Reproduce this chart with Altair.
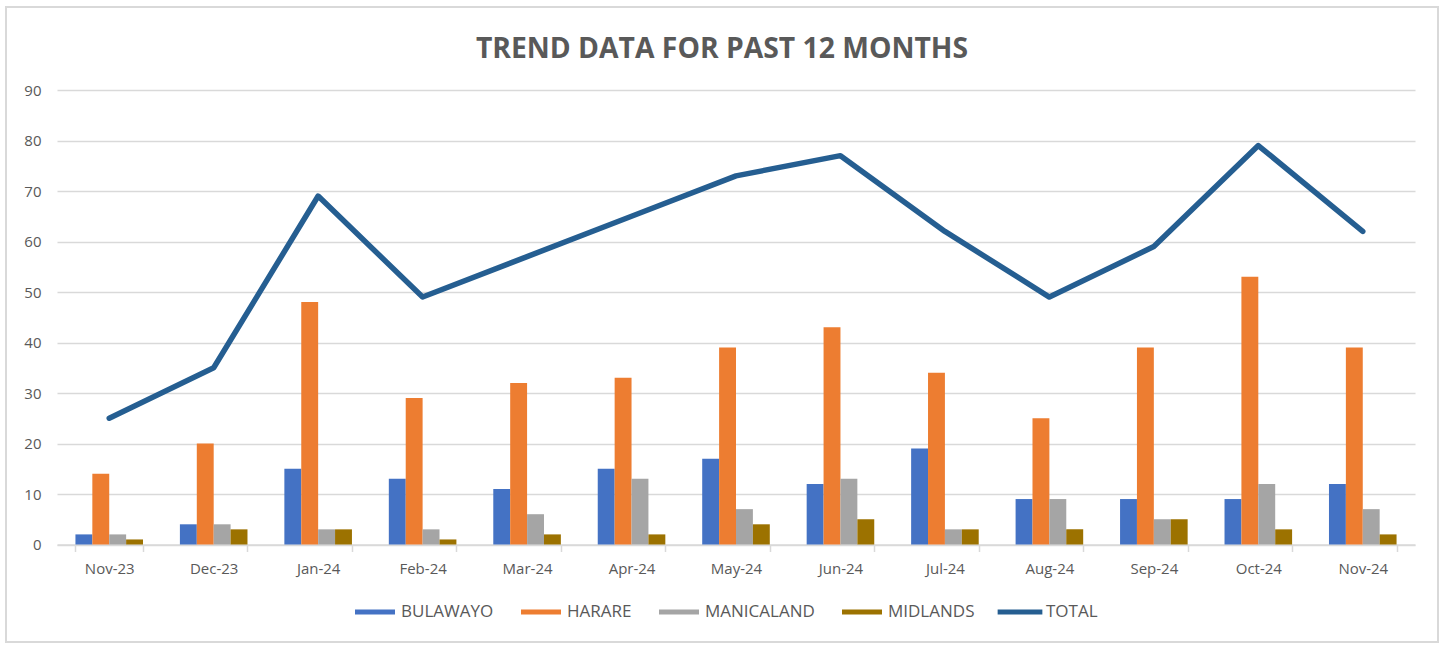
import altair as alt
import pandas as pd

months = ["Nov-23", "Dec-23", "Jan-24", "Feb-24", "Mar-24", "Apr-24", "May-24",
          "Jun-24", "Jul-24", "Aug-24", "Sep-24", "Oct-24", "Nov-24"]
bulawayo = [2, 4, 15, 13, 11, 15, 17, 12, 19, 9, 9, 9, 12]
harare = [14, 20, 48, 29, 32, 33, 39, 43, 34, 25, 39, 53, 39]
manicaland = [2, 4, 3, 3, 6, 13, 7, 13, 3, 9, 5, 12, 7]
midlands = [1, 3, 3, 1, 2, 2, 4, 5, 3, 3, 5, 3, 2]
total = [25, 35, 69, 49, 57, 65, 73, 77, 62, 49, 59, 79, 62]

bar_series = ["BULAWAYO", "HARARE", "MANICALAND", "MIDLANDS"]
bar_colors = ["#4472C4", "#ED7D31", "#A5A5A5", "#9C7200"]
line_series = ["TOTAL"]
line_colors = ["#255E91"]

rows = []
for name, vals in zip(bar_series, [bulawayo, harare, manicaland, midlands]):
    for m, v in zip(months, vals):
        rows.append({"month": m, "series": name, "value": v})
bars_df = pd.DataFrame(rows)
line_df = pd.DataFrame({"month": months, "series": ["TOTAL"] * len(months), "value": total})

FONT = "Open Sans"
GREY = "#595959"

bar_legend = alt.Legend(
    orient="none", legendX=298, legendY=502, direction="horizontal", columns=4,
    title=None, labelFont=FONT, labelFontSize=17, labelColor=GREY,
    symbolType="M-1,-0.125H1V0.125H-1Z", symbolSize=1600, symbolStrokeWidth=0,
    labelOffset=6, columnPadding=27,
)
line_legend = alt.Legend(
    orient="none", legendX=938, legendY=497, direction="horizontal",
    title=None, labelFont=FONT, labelFontSize=17, labelColor=GREY,
    symbolType="stroke", symbolSize=2000, symbolStrokeWidth=5,
    labelOffset=1,
)

x_enc = alt.X("month:N", sort=months, title=None,
              scale=alt.Scale(paddingInner=0.353, paddingOuter=0.1765),
              axis=alt.Axis(labelAngle=0, labelFont=FONT, labelFontSize=15, labelColor=GREY,
                            domainColor="#d9d9d9", domainWidth=1.5, tickColor="#d9d9d9",
                            tickWidth=1.5, tickSize=7, tickBand="extent", labelPadding=10,
                            grid=False))
y_enc = alt.Y("value:Q", title=None,
              scale=alt.Scale(domain=[0, 90], nice=False),
              axis=alt.Axis(values=list(range(0, 100, 10)), labelFont=FONT, labelFontSize=15,
                            labelColor=GREY, domain=False, ticks=False, labelPadding=16,
                            gridColor="#d9d9d9", gridWidth=1.5))

bars = alt.Chart(bars_df).mark_bar().encode(
    x=x_enc,
    y=y_enc,
    xOffset=alt.XOffset("series:N", sort=bar_series, scale=alt.Scale(paddingInner=0, paddingOuter=0)),
    color=alt.Color("series:N", scale=alt.Scale(domain=bar_series, range=bar_colors), legend=bar_legend),
)

line = alt.Chart(line_df).mark_line(strokeWidth=5.5, strokeJoin="round", strokeCap="round").encode(
    x=alt.X("month:N", sort=months),
    y="value:Q",
    stroke=alt.Stroke("series:N", scale=alt.Scale(domain=line_series, range=line_colors), legend=line_legend),
)

frame = alt.Chart(line_df).mark_rect(fill="transparent", stroke="#d9d9d9", strokeWidth=1.5).encode(
    x=alt.value(-51), x2=alt.value(1381), y=alt.value(-83), y2=alt.value(552)
)

chart = alt.layer(frame, bars, line).properties(
    width=1358, height=454.5, background="white",
    title=alt.TitleParams("TREND DATA FOR PAST 12 MONTHS", font=FONT, fontSize=28.3,
                          fontWeight="bold", color=GREY, anchor="middle", dx=-14,
                          baseline="alphabetic", offset=0, dy=80, frame="group"),
    padding={"left": 57, "top": 90, "right": 30, "bottom": 103.5},
    autosize=alt.AutoSizeParams(type="none"),
).configure_view(strokeWidth=0, stroke="transparent")

chart.save("out.html", embed_options={"renderer": "svg", "actions": False})
